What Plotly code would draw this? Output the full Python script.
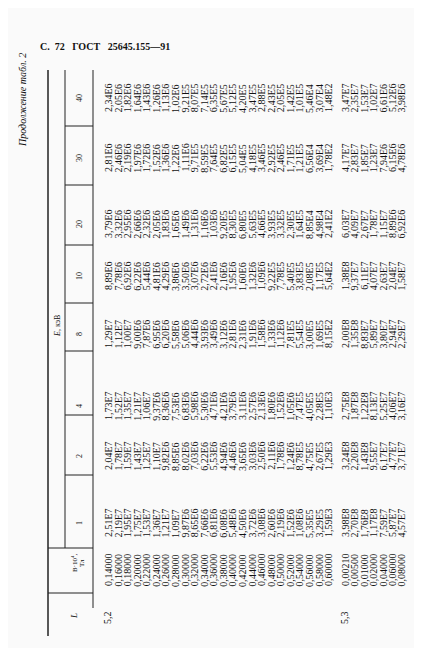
import plotly.graph_objects as go
import math

energies = ["1", "2", "4", "8", "10", "20", "30", "40"]
L_groups = ["5,2", "5,3"]
B_52 = [0.14, 0.16, 0.18, 0.20, 0.22, 0.24, 0.26, 0.28, 0.30, 0.32, 0.34, 0.36,
        0.38, 0.40, 0.42, 0.44, 0.46, 0.48, 0.50, 0.52, 0.54, 0.56, 0.58, 0.60]
B_53 = [0.0021, 0.005, 0.01, 0.02, 0.04, 0.06, 0.08]

v52_1 = [2.51e7, 2.19e7, 1.95e7, 1.75e7, 1.53e7, 1.36e7, 1.21e7, 1.09e7, 9.87e6, 8.65e6, 7.66e6, 6.81e6,
         6.08e6, 5.48e6, 4.50e6, 3.72e6, 3.08e6, 2.60e6, 2.19e6, 1.52e6, 1.08e6, 5.35e5, 3.29e5, 1.59e3]
v52_2 = [2.04e7, 1.78e7, 1.59e7, 1.43e7, 1.25e7, 1.10e7, 9.82e6, 8.85e6, 8.02e6, 7.03e6, 6.22e6, 5.53e6,
         4.94e6, 4.46e6, 3.65e6, 3.03e6, 2.50e6, 2.11e6, 1.78e6, 1.24e6, 8.78e5, 4.75e5, 2.67e5, 1.29e3]
v52_4 = [1.73e7, 1.52e7, 1.35e7, 1.21e7, 1.06e7, 9.37e6, 8.36e6, 7.53e6, 6.83e6, 5.98e6, 5.30e6, 4.71e6,
         4.21e6, 3.79e6, 3.11e6, 2.57e6, 2.13e6, 1.80e6, 1.52e6, 1.05e6, 7.47e5, 4.05e5, 2.28e5, 1.10e3]
v52_8 = [1.29e7, 1.12e7, 1.00e7, 9.00e6, 7.87e6, 6.95e6, 6.20e6, 5.58e6, 5.06e6, 4.44e6, 3.93e6, 3.49e6,
         3.12e6, 2.81e6, 2.31e6, 1.91e6, 1.58e6, 1.33e6, 1.12e6, 7.81e5, 5.54e5, 3.00e5, 1.69e5, 8.15e2]
v52_10 = [8.89e6, 7.78e6, 6.92e6, 6.22e6, 5.44e6, 4.81e6, 4.29e6, 3.86e6, 3.50e6, 3.07e6, 2.72e6, 2.41e6,
          2.16e6, 1.95e6, 1.60e6, 1.32e6, 1.09e6, 9.22e5, 7.78e5, 5.40e5, 3.83e5, 2.08e5, 1.17e5, 5.64e2]
v52_20 = [3.79e6, 3.32e6, 2.95e6, 2.66e6, 2.32e6, 2.05e6, 1.83e6, 1.65e6, 1.49e6, 1.31e6, 1.16e6, 1.03e6,
          9.20e5, 8.30e5, 6.80e5, 5.63e5, 4.66e5, 3.93e5, 3.32e5, 2.30e5, 1.64e5, 8.85e4, 4.98e4, 2.41e2]
v52_30 = [2.81e6, 2.46e6, 2.19e6, 1.97e6, 1.72e6, 1.52e6, 1.36e6, 1.22e6, 1.11e6, 9.71e5, 8.59e5, 7.64e5,
          6.82e5, 6.15e5, 5.04e5, 4.18e5, 3.46e5, 2.92e5, 2.46e5, 1.71e5, 1.21e5, 6.56e4, 3.69e4, 1.78e2]
v52_40 = [2.34e6, 2.05e6, 1.82e6, 1.64e6, 1.43e6, 1.26e6, 1.13e6, 1.02e6, 9.21e5, 8.07e5, 7.14e5, 6.35e5,
          5.67e5, 5.12e5, 4.20e5, 3.47e5, 2.88e5, 2.43e5, 2.05e5, 1.42e5, 1.01e5, 5.46e4, 3.07e4, 1.48e2]

v53_1 = [3.98e8, 2.70e8, 1.76e8, 1.17e8, 7.59e7, 5.87e7, 4.57e7]
v53_2 = [3.24e8, 2.20e8, 1.43e8, 9.55e7, 6.17e7, 4.77e7, 3.71e7]
v53_4 = [2.75e8, 1.87e8, 1.22e8, 8.13e7, 5.25e7, 4.06e7, 3.16e7]
v53_8 = [2.00e8, 1.35e8, 8.83e7, 5.89e7, 3.80e7, 2.94e7, 2.29e7]
v53_10 = [1.38e8, 9.37e7, 6.11e7, 4.07e7, 2.63e7, 2.04e7, 1.58e7]
v53_20 = [6.03e7, 4.09e7, 2.67e7, 1.78e7, 1.15e7, 8.89e6, 6.92e6]
v53_30 = [4.17e7, 2.83e7, 1.85e7, 1.23e7, 7.94e6, 6.15e6, 4.78e6]
v53_40 = [3.47e7, 2.35e7, 1.53e7, 1.02e7, 6.61e6, 5.12e6, 3.98e6]

cols52 = [v52_1, v52_2, v52_4, v52_8, v52_10, v52_20, v52_30, v52_40]
cols53 = [v53_1, v53_2, v53_4, v53_8, v53_10, v53_20, v53_30, v53_40]


def fmt(v):
    e = int(math.floor(math.log10(v) + 1e-9))
    m = v / 10 ** e
    return ("%.2f" % m).replace(".", ",") + "E" + str(e)


def fmtB(b):
    return ("%.5f" % b).replace(".", ",")

col_y = [515, 448, 398, 326, 268, 216, 150, 90]
B_y = 562
L_y = 610
x52 = [100 + i * 9.57 for i in range(len(B_52))]
x53 = [337 + i * 9.4 for i in range(len(B_53))]

FONT = "Liberation Serif, DejaVu Serif, serif"
ann = []


def txt(x, y, s, size=10, angle=-90):
    ann.append(dict(x=x, y=y, xref="x", yref="y", text=s, showarrow=False,
                    textangle=angle, font=dict(family=FONT, size=size, color="#111")))

for xs, Bs, cols, lab in [(x52, B_52, cols52, L_groups[0]), (x53, B_53, cols53, L_groups[1])]:
    txt(xs[0] - 1, L_y, lab, 10)
    for i, x in enumerate(xs):
        txt(x, B_y, fmtB(Bs[i]))
        for c, col in enumerate(cols):
            txt(x, col_y[c], fmt(col[i]))

for c, e in enumerate(energies):
    txt(71, col_y[c], e, 8)
txt(66, 555, "B·10<sup>4</sup>,", 7)
txt(74, 555, "Тл", 7)
txt(66, 608, "<i>L</i>", 9)
txt(49, 318, "<i>E</i>, кэВ", 8)
txt(14, 92, "<i>Продолжение табл. 2</i>", 10)
txt(97, 38, "<b>С.  72   ГОСТ   25645.155—91</b>", 10, 0)

shapes = []


def line(x0, y0, x1, y1, w=1):
    shapes.append(dict(type="line", xref="x", yref="y", x0=x0, y0=y0, x1=x1, y1=y1,
                       line=dict(color="#222", width=w)))

line(40, 62, 40, 628, 1.5)
line(85, 62, 85, 600, 1)
line(57, 62, 57, 540, 1)
for y in [118, 177, 237, 295, 343, 407, 467]:
    line(57, y, 85, y, 1)
line(40, 540, 85, 540, 1)
line(40, 585, 85, 585, 1)

fig = go.Figure()
fig.update_layout(width=422, height=648, margin=dict(l=0, r=0, t=0, b=0),
                  paper_bgcolor="#fafafa", plot_bgcolor="#fafafa",
                  xaxis=dict(range=[0, 422], visible=False, fixedrange=True),
                  yaxis=dict(range=[648, 0], visible=False, fixedrange=True),
                  annotations=ann, shapes=shapes, showlegend=False)
fig.write_html("out.html")
